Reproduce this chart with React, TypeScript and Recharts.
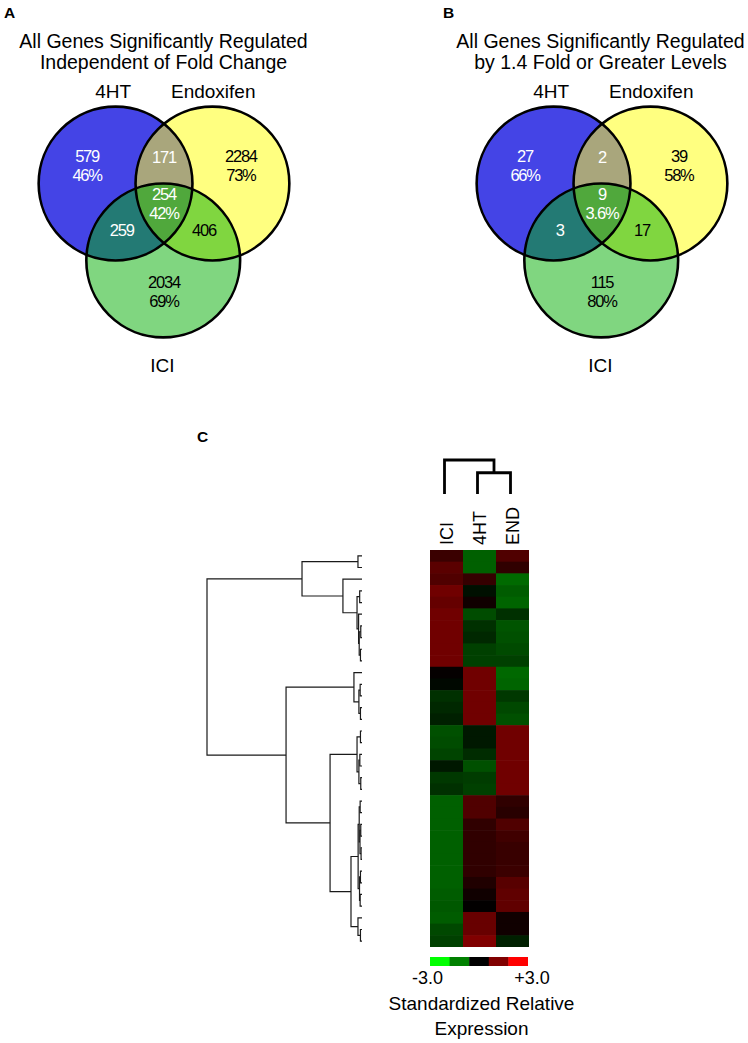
import React from "react";
import { Line, LineChart, Scatter, ScatterChart, XAxis, YAxis } from "recharts";

const FONT = "'Liberation Sans', Arial, Helvetica, sans-serif";

// ---------- Venn data ----------
const vennSetNames = ["4HT", "Endoxifen", "ICI"];
// region order: 4HT only, 4HT+END, END only, all three, 4HT+ICI, END+ICI, ICI only
const vennACounts = [579, 171, 2284, 254, 259, 406, 2034];
const vennAPercents = ["46%", "", "73%", "42%", "", "", "69%"];
const vennBCounts = [27, 2, 39, 9, 3, 17, 115];
const vennBPercents = ["66%", "", "58%", "3.6%", "", "", "80%"];

// ---------- heatmap data ----------
const heatColumns = ["ICI", "4HT", "END"];
const iciValues = [
  0.68, 1.06, 0.94, 1.32, 1.19, 1.32, 1.32, 1.32, 1.32, 1.32,
  0.06, -0.09, -0.56, -0.47, -0.38,
  -0.94, -0.89, -0.8, -0.28, -0.66, -0.56,
  -1.13, -1.13, -1.13, -1.13, -1.13, -1.13, -1.13, -1.13, -1.08, -1.04, -1.08, -0.85, -0.75,
];
const ht4Values = [
  -1.13, -1.13, 0.62, -0.19, 0.19, -0.89, -0.56, -0.47, -0.75, -0.75,
  1.32, 1.32, 1.32, 1.32, 1.32,
  -0.28, -0.28, -0.52, -0.94, -0.71, -0.75,
  0.94, 0.94, 0.56, 0.56, 0.56, 0.56, 0.56, 0.38, 0.19, 0.02, 1.22, 1.22, 1.5,
];
const endValues = [
  0.94, 0.56, -1.25, -1.08, -1.18, -0.56, -0.99, -0.94, -0.87, -0.75,
  -1.22, -1.18, -0.66, -0.85, -0.94,
  1.32, 1.32, 1.32, 1.32, 1.32, 1.32,
  0.56, 0.47, 0.94, 0.75, 0.66, 0.66, 0.7, 1.04, 1.13, 1.13, 0.19, 0.19, -0.38,
];
const legendSteps = [-3, -1.5, 0, 1.5, 3];

// dendrogram merges [a, b, height]; leaves are 0..n-1, merged nodes get n, n+1, ...
const rowMerges = [
  [0, 1, 0.26], [3, 4, 0.15], [6, 7, 0.08], [8, 9, 0.1], [36, 37, 0.18],
  [5, 38, 0.22], [35, 39, 0.32], [2, 40, 1.23], [34, 41, 3.87],
  [11, 12, 0.12], [13, 14, 0.1], [43, 44, 0.2], [10, 45, 0.52],
  [15, 16, 0.1], [17, 18, 0.14], [19, 20, 0.08], [48, 49, 0.2], [47, 50, 0.32],
  [21, 22, 0.12], [23, 24, 0.08], [25, 26, 0.06], [53, 54, 0.13], [52, 55, 0.18],
  [27, 28, 0.1], [29, 30, 0.12], [57, 58, 0.16], [56, 59, 0.25],
  [32, 33, 0.1], [31, 61, 0.26], [60, 62, 0.71],
  [51, 63, 2.06], [46, 64, 4.9], [42, 65, 10],
];
const colMerges = [[1, 2, 1.0], [0, 3, 1.6]];

// ---------- layout ----------
const VENN_R = 76.9;
const VENN_SIZE = 360;
const VENN_D = VENN_SIZE / (2 * VENN_R);
const VENN_CY = 222;

const circleSpots = [{ x: -0.63, y: 0.5 }, { x: 0.63, y: 0.5 }, { x: -0.01, y: -0.5 }];
const circleFills = ["#4444e6", "#ffff80", "#80d680"];
const overlapSpecs = [
  { clips: [0], draw: 1, fill: "#a9a67c" },
  { clips: [0], draw: 2, fill: "#237a74" },
  { clips: [1], draw: 2, fill: "#80d640" },
  { clips: [0, 1], draw: 2, fill: "#50a83c" },
];
const regionSpots = [
  { x: -1.0, y: 0.73 }, { x: 0, y: 0.84 }, { x: 1.0, y: 0.73 }, { x: 0, y: 0.24 },
  { x: -0.55, y: -0.1 }, { x: 0.52, y: -0.1 }, { x: 0, y: -0.91 },
];
const regionInk = ["#fff", "#fff", "#000", "#fff", "#fff", "#000", "#000"];
const setLabelSpots = [{ x: -0.66, y: 1.71 }, { x: 0.64, y: 1.71 }, { x: -0.02, y: -1.86 }];

const HEAT_LEFT = 430;
const HEAT_TOP = 550;
const HEAT_W = 99;
const HEAT_H = 397;
const ROWS = iciValues.length;
const CELL_W = HEAT_W / heatColumns.length;
const CELL_H = HEAT_H / ROWS;

const heatColor = (v: number) => {
  const c = Math.round(255 * Math.min(1, Math.abs(v) / 3));
  return v >= 0 ? `rgb(${c},0,0)` : `rgb(0,${c},0)`;
};

function treeLinks(leafPos: number[], merges: number[][]) {
  const pos = [...leafPos];
  const hgt = leafPos.map(() => 0);
  return merges.map(([a, b, h]) => {
    const link = [
      { h: hgt[a], pos: pos[a] },
      { h, pos: pos[a] },
      { h, pos: pos[b] },
      { h: hgt[b], pos: pos[b] },
    ];
    pos.push((pos[a] + pos[b]) / 2);
    hgt.push(h);
    return link;
  });
}

const noMargin = { top: 0, right: 0, bottom: 0, left: 0 };

function Venn({ id, centerX, counts, percents }: any) {
  const clipId = (i: number) => `${id}-clip-${i}`;
  const circles = circleSpots.map((c, i) => ({ ...c, i }));
  const overlaps = overlapSpecs.map((o) => ({ ...circleSpots[o.draw], ...o }));
  const regions = counts.map((n: number, i: number) => ({ ...regionSpots[i], count: n, pct: percents[i], ink: regionInk[i] }));
  const names = vennSetNames.map((n, i) => ({ ...setLabelSpots[i], name: n }));

  return (
    <div style={{ position: "absolute", left: centerX - VENN_SIZE / 2, top: VENN_CY - VENN_SIZE / 2 }}>
      <ScatterChart width={VENN_SIZE} height={VENN_SIZE} margin={noMargin}>
        <XAxis type="number" dataKey="x" domain={[-VENN_D, VENN_D]} hide />
        <YAxis type="number" dataKey="y" domain={[-VENN_D, VENN_D]} hide />
        <Scatter
          data={circles}
          isAnimationActive={false}
          shape={(p: any) => (
            <g>
              <defs>
                <clipPath id={clipId(p.payload.i)}>
                  <circle cx={p.cx} cy={p.cy} r={VENN_R} />
                </clipPath>
              </defs>
              <circle cx={p.cx} cy={p.cy} r={VENN_R} fill={circleFills[p.payload.i]} />
            </g>
          )}
        />
        <Scatter
          data={overlaps}
          isAnimationActive={false}
          shape={(p: any) => {
            let el = <circle cx={p.cx} cy={p.cy} r={VENN_R} fill={p.payload.fill} />;
            p.payload.clips.forEach((c: number) => {
              el = <g clipPath={`url(#${clipId(c)})`}>{el}</g>;
            });
            return el;
          }}
        />
        <Scatter
          data={circles}
          isAnimationActive={false}
          shape={(p: any) => (
            <circle cx={p.cx} cy={p.cy} r={VENN_R} fill="none" stroke="#000" strokeWidth={2.6} />
          )}
        />
        <Scatter
          data={regions}
          isAnimationActive={false}
          shape={(p: any) => {
            const style = { fontFamily: FONT, fontSize: 16.5, letterSpacing: -1.2 };
            if (p.payload.pct) {
              return (
                <text x={p.cx} y={p.cy} textAnchor="middle" fill={p.payload.ink} style={style}>
                  <tspan x={p.cx} dy={-3.5}>{p.payload.count}</tspan>
                  <tspan x={p.cx} dy={19}>{p.payload.pct}</tspan>
                </text>
              );
            }
            return (
              <text x={p.cx} y={p.cy + 6} textAnchor="middle" fill={p.payload.ink} style={style}>
                {p.payload.count}
              </text>
            );
          }}
        />
        <Scatter
          data={names}
          isAnimationActive={false}
          shape={(p: any) => (
            <text x={p.cx} y={p.cy + 7} textAnchor="middle" fill="#000" style={{ fontFamily: FONT, fontSize: 19 }}>
              {p.payload.name}
            </text>
          )}
        />
      </ScatterChart>
    </div>
  );
}

function ColumnTick({ x, y, payload }: any) {
  const name = heatColumns[Math.floor(payload.value)];
  return (
    <text
      x={x}
      y={y}
      dy={6.5}
      transform={`rotate(-90 ${x} ${y})`}
      textAnchor="start"
      fill="#000"
      style={{ fontFamily: FONT, fontSize: 18 }}
    >
      {name}
    </text>
  );
}

const label = (left: number, top: number, text: string, extra: any = {}) => (
  <div style={{ position: "absolute", left, top, fontFamily: FONT, color: "#000", whiteSpace: "nowrap", ...extra }}>
    {text}
  </div>
);

const centered = (cx: number, top: number, lines: string[], size: number, lh: number) => (
  <div
    style={{
      position: "absolute",
      left: cx - 200,
      top,
      width: 400,
      textAlign: "center",
      fontFamily: FONT,
      fontSize: size,
      lineHeight: `${lh}px`,
      color: "#000",
    }}
  >
    {lines.map((l) => (
      <div key={l}>{l}</div>
    ))}
  </div>
);

export default function App() {
  const heatCells = iciValues.flatMap((_, r) =>
    [iciValues[r], ht4Values[r], endValues[r]].map((v, c) => ({ col: c + 0.5, row: r, v }))
  );
  const rowLinks = treeLinks(iciValues.map((_, i) => i), rowMerges);
  const colLinks = treeLinks(heatColumns.map((_, i) => i + 0.5), colMerges);
  const legendCells = legendSteps.map((v) => ({ v, y: 0.5 }));
  const fmt = (v: number) => `${v > 0 ? "+" : ""}${v.toFixed(1)}`;

  return (
    <div style={{ position: "absolute", left: 0, top: 0, width: 748, height: 1043, background: "#fff", overflow: "hidden" }}>
      {label(4, 5, "A", { fontSize: 15.5, fontWeight: "bold", lineHeight: "16px" })}
      {label(443, 5, "B", { fontSize: 15.5, fontWeight: "bold", lineHeight: "16px" })}
      {label(197, 429, "C", { fontSize: 15.5, fontWeight: "bold", lineHeight: "16px" })}

      {centered(163.5, 30.5, ["All Genes Significantly Regulated", "Independent of Fold Change"], 19.5, 21)}
      {centered(600.5, 30.5, ["All Genes Significantly Regulated", "by 1.4 Fold or Greater Levels"], 19.5, 21)}

      <Venn id="vennA" centerX={163.5} counts={vennACounts} percents={vennAPercents} />
      <Venn id="vennB" centerX={601.5} counts={vennBCounts} percents={vennBPercents} />

      {/* row dendrogram */}
      <div style={{ position: "absolute", left: 205, top: HEAT_TOP }}>
        <LineChart width={159} height={HEAT_H} margin={{ top: 0, right: 2, bottom: 0, left: 2 }}>
          <XAxis type="number" dataKey="h" domain={[0, 10]} reversed hide />
          <YAxis type="number" domain={[-0.5, ROWS - 0.5]} reversed hide />
          {rowLinks.map((link, i) => (
            <Line
              key={i}
              data={link}
              dataKey="pos"
              stroke="#1a1a1a"
              strokeWidth={1.2}
              dot={false}
              activeDot={false}
              isAnimationActive={false}
            />
          ))}
        </LineChart>
      </div>

      {/* column dendrogram */}
      <div style={{ position: "absolute", left: HEAT_LEFT - 2, top: 455 }}>
        <LineChart width={HEAT_W} height={41} margin={{ top: 5, right: 0, bottom: 2, left: 0 }}>
          <XAxis type="number" dataKey="pos" domain={[0, heatColumns.length]} hide />
          <YAxis type="number" domain={[0, 1.6]} hide />
          {colLinks.map((link, i) => (
            <Line
              key={i}
              data={link}
              dataKey="h"
              stroke="#000"
              strokeWidth={2.8}
              dot={false}
              activeDot={false}
              isAnimationActive={false}
            />
          ))}
        </LineChart>
      </div>

      {/* heatmap */}
      <div style={{ position: "absolute", left: HEAT_LEFT, top: HEAT_TOP - 50 }}>
        <ScatterChart width={HEAT_W} height={HEAT_H + 50} margin={noMargin}>
          <XAxis
            type="number"
            dataKey="col"
            domain={[0, heatColumns.length]}
            orientation="top"
            height={50}
            ticks={heatColumns.map((_, i) => i + 0.5)}
            interval={0}
            tickLine={false}
            axisLine={false}
            tickSize={0}
            tickMargin={5}
            tick={<ColumnTick />}
          />
          <YAxis type="number" dataKey="row" domain={[-0.5, ROWS - 0.5]} reversed hide />
          <Scatter
            data={heatCells}
            isAnimationActive={false}
            shape={(p: any) => (
              <rect
                x={p.cx - CELL_W / 2}
                y={p.cy - CELL_H / 2}
                width={CELL_W}
                height={CELL_H + 0.6}
                fill={heatColor(p.payload.v)}
              />
            )}
          />
        </ScatterChart>
      </div>

      {/* colour key */}
      <div style={{ position: "absolute", left: 430, top: 957 }}>
        <ScatterChart width={98} height={9} margin={noMargin}>
          <XAxis type="number" dataKey="v" domain={[-3.75, 3.75]} hide />
          <YAxis type="number" dataKey="y" domain={[0, 1]} hide />
          <Scatter
            data={legendCells}
            isAnimationActive={false}
            shape={(p: any) => (
              <rect x={p.cx - 98 / 10} y={p.cy - 4.5} width={98 / 5 + 0.4} height={9} fill={heatColor(p.payload.v)} />
            )}
          />
        </ScatterChart>
      </div>
      {centered(427.5, 967, [fmt(legendSteps[0])], 18, 22)}
      {centered(532, 967, [fmt(legendSteps[legendSteps.length - 1])], 18, 22)}
      {centered(481.5, 990.5, ["Standardized Relative", "Expression"], 19, 25)}
    </div>
  );
}
